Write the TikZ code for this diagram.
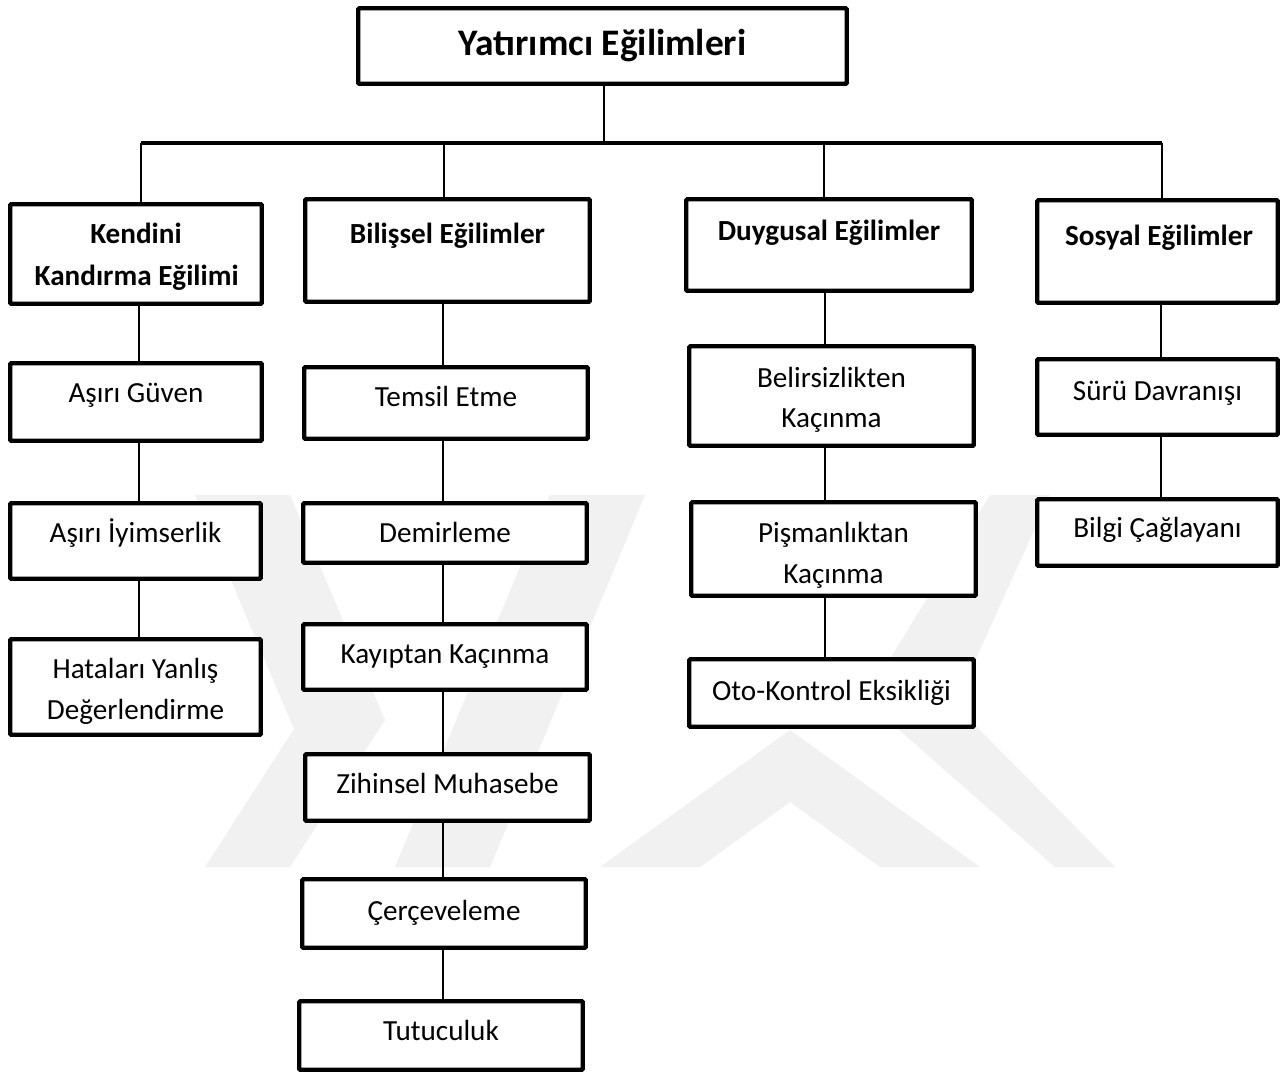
\documentclass[tikz,border=0pt]{standalone}
\usepackage{fontspec}
\setmainfont{Carlito}
\definecolor{wmgray}{RGB}{241,241,241}
\begin{document}
\begin{tikzpicture}[x=0.02cm,y=-0.02cm,
  bx/.style={draw=black,line width=2.5pt,fill=white,inner sep=0pt,rounded corners=0.6pt},
  ln/.style={line width=1.1pt},
  tx/.style={anchor=base,inner sep=0pt,font=\fontsize{16.6}{20}\selectfont},
  hd/.style={anchor=base,inner sep=0pt,font=\fontsize{16.6}{20}\selectfont\bfseries},
  ttl/.style={anchor=base,inner sep=0pt,font=\fontsize{21.3}{25}\selectfont\bfseries},
  wm/.style={fill=wmgray,draw=none}]
\useasboundingbox (0,0) rectangle (1282,1073);
\fill[white] (0,0) rectangle (1282,1073);

% watermark
\fill[wm] (195,495) -- (290,495) -- (385,720) -- (290,867) -- (205,867) -- (294,729) -- cycle;
\fill[wm] (395,867) -- (490,867) -- (645,495) -- (550,495) -- cycle;
\fill[wm] (600,867) -- (790,730) -- (980,867) -- (880,867) -- (790,802) -- (700,867) -- cycle;
\fill[wm] (990,495) -- (1050,495) -- (955,705) -- (1115,867) -- (1055,867) -- (865,700) -- cycle;

% boxes
\node[bx,minimum width=9.77cm,minimum height=1.51cm] (title) at (602.5,46) {};
\node[bx,minimum width=5.03cm,minimum height=1.99cm] (kend) at (136,254) {};
\node[bx,minimum width=5.69cm,minimum height=2.05cm] (bil) at (447.5,250.5) {};
\node[bx,minimum width=5.71cm,minimum height=1.83cm] (duy) at (829,245) {};
\node[bx,minimum width=4.81cm,minimum height=2.05cm] (sos) at (1157.5,251.5) {};
\node[bx,minimum width=5.03cm,minimum height=1.55cm] (asg) at (136,402) {};
\node[bx,minimum width=5.01cm,minimum height=1.51cm] (asi) at (135.5,541) {};
\node[bx,minimum width=5.01cm,minimum height=1.91cm] (hat) at (135.5,687) {};
\node[bx,minimum width=5.67cm,minimum height=1.43cm] (tem) at (446,403) {};
\node[bx,minimum width=5.67cm,minimum height=1.19cm] (dem) at (445,533) {};
\node[bx,minimum width=5.67cm,minimum height=1.31cm] (kay) at (445,657) {};
\node[bx,minimum width=5.69cm,minimum height=1.33cm] (zih) at (447.5,787.5) {};
\node[bx,minimum width=5.67cm,minimum height=1.37cm] (cer) at (444,913.5) {};
\node[bx,minimum width=5.67cm,minimum height=1.37cm] (tut) at (441,1035.5) {};
\node[bx,minimum width=5.69cm,minimum height=1.99cm] (bel) at (831.5,396) {};
\node[bx,minimum width=5.69cm,minimum height=1.87cm] (pis) at (833.5,549) {};
\node[bx,minimum width=5.69cm,minimum height=1.35cm] (oto) at (831.5,693) {};
\node[bx,minimum width=4.81cm,minimum height=1.51cm] (sur) at (1157.5,397) {};
\node[bx,minimum width=4.81cm,minimum height=1.33cm] (bcg) at (1157.5,532.5) {};

% connectors
\coordinate (hub) at (604,143);
\coordinate (bL) at (141,143);
\coordinate (b2) at (444,143);
\coordinate (b3) at (824,143);
\coordinate (bR) at (1162,143);
\coordinate (cA) at (139,0);
\coordinate (cB) at (443,0);
\coordinate (cC) at (825,0);
\coordinate (cD) at (1161,0);
\draw[line width=1.7pt] (title.south -| hub) -- (hub);
\draw[line width=1.9pt] (bL) -- (bR);
\draw[ln] (bL) -- (bL |- kend.north);
\draw[ln] (b2) -- (b2 |- bil.north);
\draw[ln] (b3) -- (b3 |- duy.north);
\draw[ln] (bR) -- (bR |- sos.north);
\draw[ln] (kend.south -| cA) -- (asg.north -| cA);
\draw[ln] (asg.south -| cA) -- (asi.north -| cA);
\draw[ln] (asi.south -| cA) -- (hat.north -| cA);
\draw[ln] (bil.south -| cB) -- (tem.north -| cB);
\draw[ln] (tem.south -| cB) -- (dem.north -| cB);
\draw[ln] (dem.south -| cB) -- (kay.north -| cB);
\draw[ln] (kay.south -| cB) -- (zih.north -| cB);
\draw[ln] (zih.south -| cB) -- (cer.north -| cB);
\draw[ln] (cer.south -| cB) -- (tut.north -| cB);
\draw[ln] (duy.south -| cC) -- (bel.north -| cC);
\draw[ln] (bel.south -| cC) -- (pis.north -| cC);
\draw[ln] (pis.south -| cC) -- (oto.north -| cC);
\draw[ln] (sos.south -| cD) -- (sur.north -| cD);
\draw[ln] (sur.south -| cD) -- (bcg.north -| cD);

% texts
\node[ttl] (t-title) at (602.5,55) {Yatırımcı Eğilimleri};
\node[hd] (t-kend1) at (136,243) {Kendini};
\node[hd] (t-kend2) at (136.7,285) {Kandırma Eğilimi};
\node[hd] (t-bil) at (447.5,243) {Bilişsel Eğilimler};
\node[hd] (t-duy) at (829,240) {Duygusal Eğilimler};
\node[hd] (t-sos) at (1159,245) {Sosyal Eğilimler};
\node[tx] (t-asg) at (136,402) {Aşırı Güven};
\node[tx] (t-asi) at (135.5,542) {Aşırı İyimserlik};
\node[tx] (t-hat1) at (135.5,678) {Hataları Yanlış};
\node[tx] (t-hat2) at (135.5,719) {Değerlendirme};
\node[tx] (t-tem) at (446,406) {Temsil Etme};
\node[tx] (t-dem) at (445,542) {Demirleme};
\node[tx] (t-kay) at (445,663) {Kayıptan Kaçınma};
\node[tx] (t-zih) at (447.5,793) {Zihinsel Muhasebe};
\node[tx] (t-cer) at (444,920) {Çerçeveleme};
\node[tx] (t-tut) at (441,1040) {Tutuculuk};
\node[tx] (t-bel1) at (831.5,387) {Belirsizlikten};
\node[tx] (t-bel2) at (831.5,427) {Kaçınma};
\node[tx] (t-pis1) at (833.5,542) {Pişmanlıktan};
\node[tx] (t-pis2) at (833.5,583) {Kaçınma};
\node[tx] (t-oto) at (831.5,700) {Oto-Kontrol Eksikliği};
\node[tx] (t-sur) at (1157.5,400) {Sürü Davranışı};
\node[tx] (t-bcg) at (1157.5,537) {Bilgi Çağlayanı};
\end{tikzpicture}
\end{document}
